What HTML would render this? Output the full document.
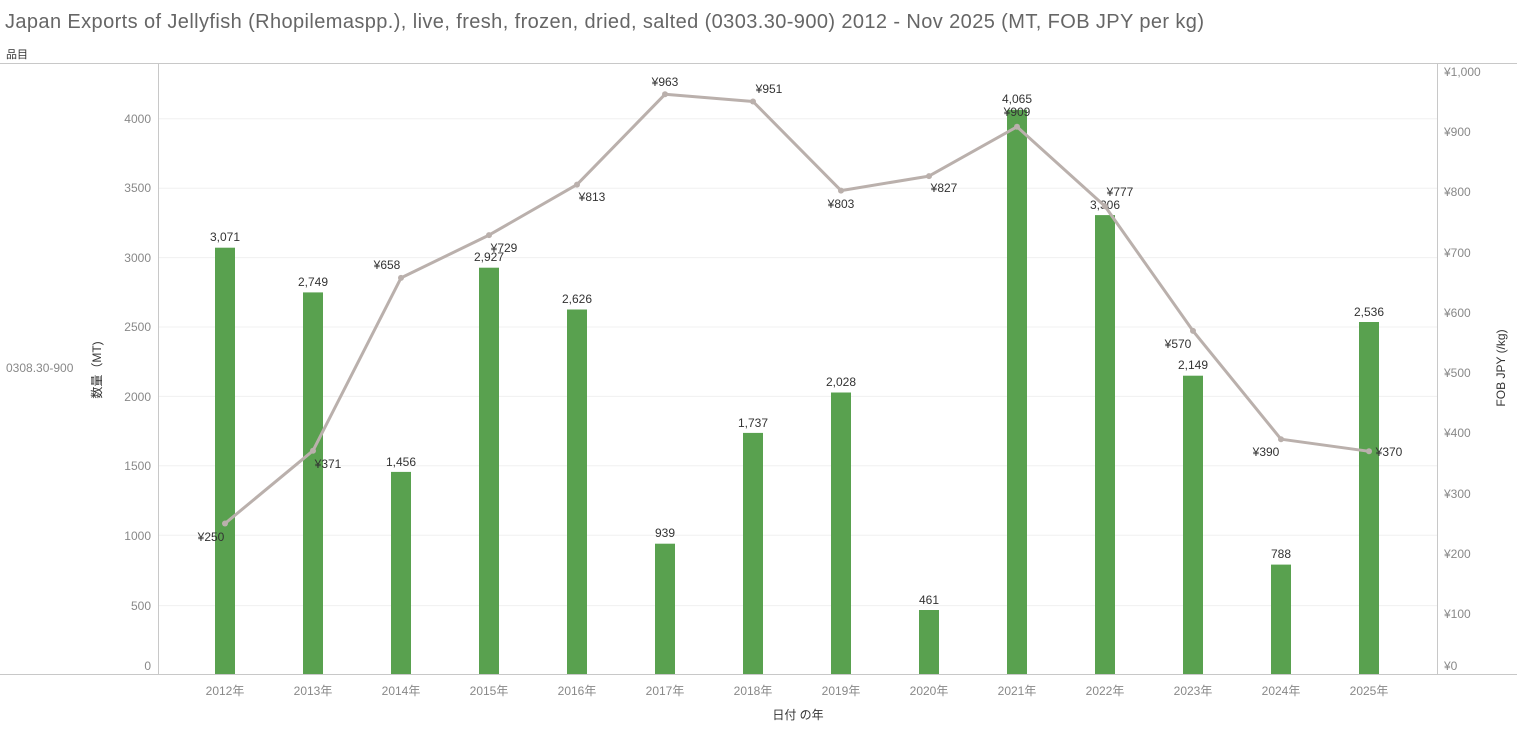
<!DOCTYPE html>
<html><head><meta charset="utf-8"><style>
body{margin:0;background:#fff;}
svg{display:block;font-family:"Liberation Sans","Noto Sans CJK JP",sans-serif;}
.t{font-size:12px;fill:#888}
.l{font-size:12px;fill:#333;text-anchor:middle}
</style></head><body>
<svg width="1517" height="732" viewBox="0 0 1517 732">
<text x="5" y="28" font-size="20" fill="#666" textLength="1199" lengthAdjust="spacing">Japan Exports of Jellyfish (Rhopilemaspp.), live, fresh, frozen, dried, salted (0303.30-900) 2012 - Nov 2025 (MT, FOB JPY per kg)</text>
<text x="6" y="58" font-size="11" fill="#333">品目</text>
<line x1="0" y1="63.5" x2="1517" y2="63.5" stroke="#c8c8c8"/>
<line x1="0" y1="674.5" x2="1517" y2="674.5" stroke="#c8c8c8"/>
<line x1="158.5" y1="63" x2="158.5" y2="674" stroke="#c8c8c8"/>
<line x1="1437.5" y1="63" x2="1437.5" y2="674" stroke="#c8c8c8"/>
<g stroke="#f0f0f0">
<line x1="159" x2="1437" y1="605.6" y2="605.6"/><line x1="159" x2="1437" y1="535.2" y2="535.2"/>
<line x1="159" x2="1437" y1="465.8" y2="465.8"/><line x1="159" x2="1437" y1="396.4" y2="396.4"/>
<line x1="159" x2="1437" y1="327" y2="327"/><line x1="159" x2="1437" y1="257.6" y2="257.6"/>
<line x1="159" x2="1437" y1="188.2" y2="188.2"/><line x1="159" x2="1437" y1="118.8" y2="118.8"/>
</g>
<g class="t" text-anchor="end">
<text x="151" y="670">0</text><text x="151" y="610">500</text><text x="151" y="540">1000</text>
<text x="151" y="470">1500</text><text x="151" y="401">2000</text><text x="151" y="331">2500</text>
<text x="151" y="262">3000</text><text x="151" y="192">3500</text><text x="151" y="123">4000</text>
</g>
<g class="t">
<text x="1444" y="670">¥0</text><text x="1444" y="618">¥100</text><text x="1444" y="558">¥200</text>
<text x="1444" y="498">¥300</text><text x="1444" y="437">¥400</text><text x="1444" y="377">¥500</text>
<text x="1444" y="317">¥600</text><text x="1444" y="257">¥700</text><text x="1444" y="196">¥800</text>
<text x="1444" y="136">¥900</text><text x="1444" y="76">¥1,000</text>
</g>
<text x="6" y="372" class="t">0308.30-900</text>
<text transform="translate(101,370) rotate(-90)" font-size="12" fill="#333" text-anchor="middle">数量（MT)</text>
<text transform="translate(1505,368) rotate(-90)" font-size="12" fill="#333" text-anchor="middle">FOB JPY (/kg)</text>
<g fill="#59a14f">
<rect x="215" y="247.7" width="20" height="426.3"/><rect x="303" y="292.4" width="20" height="381.6"/>
<rect x="391" y="471.9" width="20" height="202.1"/><rect x="479" y="267.7" width="20" height="406.3"/>
<rect x="567" y="309.5" width="20" height="364.5"/><rect x="655" y="543.7" width="20" height="130.3"/>
<rect x="743" y="432.9" width="20" height="241.1"/><rect x="831" y="392.5" width="20" height="281.5"/>
<rect x="919" y="610" width="20" height="64"/><rect x="1007" y="109.8" width="20" height="564.2"/>
<rect x="1095" y="215.1" width="20" height="458.9"/><rect x="1183" y="375.7" width="20" height="298.3"/>
<rect x="1271" y="564.6" width="20" height="109.4"/><rect x="1359" y="322" width="20" height="352"/>
</g>
<g class="l">
<text x="225" y="241">3,071</text><text x="313" y="286">2,749</text><text x="401" y="466">1,456</text>
<text x="489" y="261">2,927</text><text x="577" y="303">2,626</text><text x="665" y="537">939</text>
<text x="753" y="427">1,737</text><text x="841" y="386">2,028</text><text x="929" y="604">461</text>
<text x="1017" y="103">4,065</text><text x="1105" y="209">3,306</text><text x="1193" y="369">2,149</text>
<text x="1281" y="558">788</text><text x="1369" y="316">2,536</text>
</g>
<polyline fill="none" stroke="#bab0ac" stroke-width="3" stroke-linejoin="round" points="225,523.5 313,450.7 401,277.9 489,235.1 577,184.6 665,94.3 753,101.5 841,190.6 929,176.1 1017,126.8 1105,206.2 1193,330.9 1281,439.2 1369,451.3"/>
<g fill="#bab0ac">
<circle cx="225" cy="523.5" r="3"/><circle cx="313" cy="450.7" r="3"/><circle cx="401" cy="277.9" r="3"/>
<circle cx="489" cy="235.1" r="3"/><circle cx="577" cy="184.6" r="3"/><circle cx="665" cy="94.3" r="3"/>
<circle cx="753" cy="101.5" r="3"/><circle cx="841" cy="190.6" r="3"/><circle cx="929" cy="176.1" r="3"/>
<circle cx="1017" cy="126.8" r="3"/><circle cx="1105" cy="206.2" r="3"/><circle cx="1193" cy="330.9" r="3"/>
<circle cx="1281" cy="439.2" r="3"/><circle cx="1369" cy="451.3" r="3"/>
</g>
<g class="l">
<text x="211" y="541">¥250</text><text x="328" y="468">¥371</text><text x="387" y="269">¥658</text>
<text x="504" y="252">¥729</text><text x="592" y="201">¥813</text><text x="665" y="86">¥963</text>
<text x="769" y="93">¥951</text><text x="841" y="208">¥803</text><text x="944" y="192">¥827</text>
<text x="1017" y="116">¥909</text><text x="1120" y="196">¥777</text><text x="1178" y="348">¥570</text>
<text x="1266" y="456">¥390</text><text x="1389" y="456">¥370</text>
</g>
<g class="t" text-anchor="middle">
<text x="225" y="695">2012年</text><text x="313" y="695">2013年</text><text x="401" y="695">2014年</text>
<text x="489" y="695">2015年</text><text x="577" y="695">2016年</text><text x="665" y="695">2017年</text>
<text x="753" y="695">2018年</text><text x="841" y="695">2019年</text><text x="929" y="695">2020年</text>
<text x="1017" y="695">2021年</text><text x="1105" y="695">2022年</text><text x="1193" y="695">2023年</text>
<text x="1281" y="695">2024年</text><text x="1369" y="695">2025年</text>
</g>
<text x="798" y="719" font-size="12" fill="#333" text-anchor="middle">日付 の年</text>
</svg>
</body></html>
